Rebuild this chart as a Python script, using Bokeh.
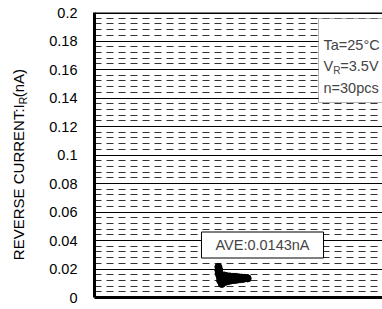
import math
from bokeh.plotting import figure
from bokeh.layouts import row
from bokeh.models import FixedTicker, Label, Span, BoxAnnotation, Range1d
from bokeh.core.properties import value
from bokeh.embed import file_html
from bokeh.resources import INLINE

# ---- data ----
y_ticks = [0.0, 0.02, 0.04, 0.06, 0.08, 0.10, 0.12, 0.14, 0.16, 0.18, 0.20]
y_tick_labels = ["0", "0.02", "0.04", "0.06", "0.08", "0.1", "0.12", "0.14",
                 "0.16", "0.18", "0.2"]
sample_pos = [4.30, 4.32, 4.30, 4.33, 4.31, 4.35, 4.34, 4.38, 4.36, 4.40,
              4.42, 4.45, 4.50, 4.55, 4.60, 4.65, 4.70, 4.75, 4.80, 4.85,
              4.90, 4.95, 5.00, 5.05, 5.10, 5.15, 5.20, 5.25, 5.30, 5.32]
reverse_current = [0.0215, 0.0200, 0.0190, 0.0180, 0.0170, 0.0160, 0.0150,
                   0.0140, 0.0120, 0.0110, 0.0095, 0.0105, 0.0155, 0.0110,
                   0.0150, 0.0115, 0.0148, 0.0120, 0.0145, 0.0122, 0.0145,
                   0.0125, 0.0142, 0.0128, 0.0140, 0.0130, 0.0138, 0.0135,
                   0.0136, 0.0134]
ave_text = "AVE:0.0143nA"
cond_lines = ["Ta=25°C", "=3.5V", "n=30pcs"]
title_parts = ["REVERSE CURRENT:I", "R", "(nA)"]

FONT = "Liberation Sans"
X_RANGE = (0.0, 10.0)
Y_RANGE = (0.0, 0.2)

TOTAL_W, TOTAL_H = 382, 309
LW = 32                      # width of the strip that holds the axis title
W, H = TOTAL_W - LW, TOTAL_H
FL, FT, FB, FR = 94, 12, 297, TOTAL_W     # frame edges in window pixels
ML, MT, MB, MR = FL - LW, FT, TOTAL_H - FB, TOTAL_W - FR


def X(wx):
    return X_RANGE[0] + (wx - FL) / (FR - FL) * (X_RANGE[1] - X_RANGE[0])


def Y(wy):
    return Y_RANGE[0] + (FB - wy) / (FB - FT) * (Y_RANGE[1] - Y_RANGE[0])


# ---- title strip (rotated axis title with subscript) ----
t = figure(width=LW, height=H, output_backend="svg", toolbar_location=None,
           x_range=Range1d(0, LW), y_range=Range1d(0, H),
           x_axis_type=None, y_axis_type=None, min_border=0)
t.outline_line_color = None
t.grid.grid_line_color = None
t.background_fill_color = "white"
t.border_fill_color = "white"
SPLIT = 99.5          # window y where the subscript begins
SUB_W = 7.6
t.text(x=[17.5], y=[H - SPLIT], text=[title_parts[0]], angle=math.pi / 2,
       text_font=value(FONT), text_font_size=value("15px"),
       text_align="right", text_baseline="middle", text_color="black")
t.text(x=[22.2], y=[H - SPLIT], text=[title_parts[1]], angle=math.pi / 2,
       text_font=value(FONT), text_font_size=value("10.5px"),
       text_align="left", text_baseline="middle", text_color="black")
t.text(x=[17.5], y=[H - SPLIT + SUB_W], text=[title_parts[2]],
       angle=math.pi / 2, text_font=value(FONT), text_font_size=value("15px"),
       text_align="left", text_baseline="middle", text_color="black")

# ---- main plot ----
p = figure(width=W, height=H, output_backend="svg", toolbar_location=None,
           x_range=Range1d(*X_RANGE), y_range=Range1d(*Y_RANGE),
           min_border_left=ML, min_border_top=MT, min_border_bottom=MB,
           min_border_right=MR)
p.outline_line_color = None
p.background_fill_color = "white"
p.border_fill_color = "white"

minor = []
for i in range(len(y_ticks) - 1):
    for k in range(1, 5):
        minor.append(y_ticks[i] + k * (y_ticks[i + 1] - y_ticks[i]) / 5)
ticker = FixedTicker(ticks=y_ticks, minor_ticks=minor)

p.yaxis.ticker = ticker
p.yaxis.major_label_overrides = {tk: lb for tk, lb in zip(y_ticks, y_tick_labels)}
p.yaxis.major_label_text_font = FONT
p.yaxis.major_label_text_font_size = "14.5px"
p.yaxis.major_label_text_color = "black"
p.yaxis.major_tick_line_color = None
p.yaxis.minor_tick_line_color = None
p.yaxis.major_tick_out = 0
p.yaxis.major_tick_in = 0
p.yaxis.major_label_standoff = 13
p.yaxis.axis_line_width = 3
p.yaxis.axis_line_color = "black"

p.xaxis.ticker = FixedTicker(ticks=[], minor_ticks=[])
p.xaxis.major_tick_line_color = None
p.xaxis.minor_tick_line_color = None
p.xaxis.major_tick_out = 0
p.xaxis.major_tick_in = 0
p.xaxis.major_label_standoff = 0
p.xaxis.axis_line_width = 3
p.xaxis.axis_line_color = "black"

p.xgrid.grid_line_color = None
p.ygrid.ticker = ticker
p.ygrid.grid_line_color = "black"
p.ygrid.grid_line_width = 1
p.ygrid.minor_grid_line_color = "#333333"
p.ygrid.minor_grid_line_dash = "7 5"
p.ygrid.minor_grid_line_width = 1

p.add_layout(Span(location=Y_RANGE[1], dimension="width", line_color="black",
                  line_width=3))

p.scatter(sample_pos, reverse_current, size=7, color="black")

# AVE box
p.add_layout(Label(x=X(262), y=Y(244.5), text=ave_text, text_font=FONT,
                   text_font_size="14.5px", text_align="center",
                   text_baseline="middle", background_fill_color="white",
                   border_line_color="black", border_line_width=1,
                   padding=dict(left=14, right=14, top=5, bottom=5)))

# conditions box
p.add_layout(BoxAnnotation(left=X(318), right=X(460), top=Y(18), bottom=Y(102),
                           fill_color="white", fill_alpha=1.0,
                           line_color="black", line_width=1))
p.add_layout(Label(x=X(323), y=Y(44), text=cond_lines[0], text_font=FONT,
                   text_font_size="14.5px", text_baseline="alphabetic"))
p.add_layout(Label(x=X(323), y=Y(65.5), text="V", text_font=FONT,
                   text_font_size="14.5px", text_baseline="alphabetic"))
p.add_layout(Label(x=X(332.7), y=Y(69.5), text="R", text_font=FONT,
                   text_font_size="10px", text_baseline="alphabetic"))
p.add_layout(Label(x=X(339.8), y=Y(65.5), text=cond_lines[1], text_font=FONT,
                   text_font_size="14.5px", text_baseline="alphabetic"))
p.add_layout(Label(x=X(323), y=Y(87), text=cond_lines[2], text_font=FONT,
                   text_font_size="14.5px", text_baseline="alphabetic"))

layout = row(t, p, spacing=0)
open("out.html", "w").write(file_html(layout, INLINE))
